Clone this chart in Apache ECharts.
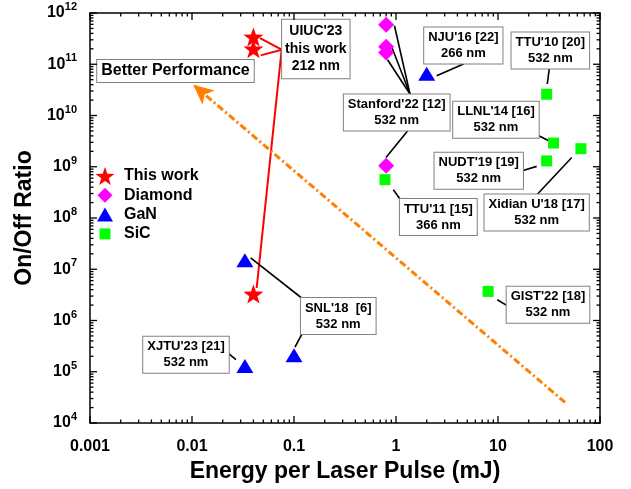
<!DOCTYPE html>
<html>
<head>
<meta charset="utf-8">
<script src="https://cdn.jsdelivr.net/npm/echarts@6/dist/echarts.min.js"></script>
<style>
html, body { margin: 0; padding: 0; background: #fff; }
#chart { width: 631px; height: 489px; }
</style>
</head>
<body>
<div id="chart"></div>
<script>
// [energy per pulse (mJ), on/off ratio]
const thisWork = [[0.04, 3.4e11], [0.04, 2.0e11], [0.04, 3.3e6]];
const diamond = [[0.8, 5.9e11], [0.8, 2.2e11], [0.8, 1.7e11], [0.8, 1.05e9]];
const gan = [[2.0, 6.5e10], [0.033, 1.5e7], [0.1, 2.1e5], [0.033, 1.3e5]];
const sic = [[0.78, 5.6e8], [30, 2.6e10], [35, 2.9e9], [30, 1.3e9], [65, 2.25e9], [8, 3.7e6]];

const xTickLabels = ['0.001', '0.01', '0.1', '1', '10', '100'];
const yTickExps = [4, 5, 6, 7, 8, 9, 10, 11, 12];

// trend arrow, log10 units
const trendFrom = [1.657, 4.402];
const trendTo = [-1.987, 10.601];

// callout boxes: centre and connector lines in log10 units
const notes = [
  { text: "UIUC'23\nthis work\n212 nm", box: [-0.786, 11.30], size: 14, color: '#ff0000',
    links: [[[-1.333, 11.512], [-1.121, 11.284]], [[-1.326, 11.173], [-1.121, 11.284]], [[-1.121, 11.284], [-1.366, 6.634]]] },
  { text: 'Better Performance', box: [-2.162, 10.870], size: 16, links: [] },
  { text: "NJU'16 [22]\n266 nm", box: [0.660, 11.368], links: [[[0.399, 10.777], [0.667, 11.011]]] },
  { text: "TTU'10 [20]\n532 nm", box: [1.513, 11.270], links: [[[1.503, 10.913], [1.483, 10.615]]] },
  { text: "Stanford'22 [12]\n532 nm", box: [0.007, 10.060],
    links: [[[0.137, 10.420], [-0.015, 11.752]], [[0.137, 10.420], [-0.042, 11.337]], [[0.137, 10.420], [-0.083, 11.089]], [[0.115, 9.703], [-0.098, 9.182]]] },
  { text: "LLNL'14 [16]\n532 nm", box: [0.980, 9.918], links: [[[1.399, 9.606], [1.493, 9.514]]] },
  { text: "NUDT'19 [19]\n532 nm", box: [0.811, 8.923], links: [[[1.238, 8.923], [1.379, 9.007]]] },
  { text: "Xidian U'18 [17]\n532 nm", box: [1.379, 8.109], links: [[[1.379, 8.449], [1.723, 9.182]]] },
  { text: "TTU'11 [15]\n366 nm", box: [0.415, 8.020], links: [[[0.039, 8.371], [-0.026, 8.552]]] },
  { text: "XJTU'23 [21]\n532 nm", box: [-2.059, 5.333], links: [[[-1.640, 5.352], [-1.569, 5.235]]] },
  { text: "SNL'18  [6]\n532 nm", box: [-0.566, 6.088], links: [[[-1.425, 7.220], [-0.925, 6.439]], [[-0.925, 5.723], [-0.990, 5.483]]] },
  { text: "GIST'22 [18]\n532 nm", box: [1.490, 6.308], links: [[[1.085, 6.295], [0.993, 6.406]]] }
];

const FONT = '"Liberation Sans", Arial, sans-serif';
const X_MIN = 0.001, X_MAX = 100, Y_MIN = 1e4, Y_MAX = 1e12;
const p10 = e => Math.pow(10, e);

function starPath(cx, cy, R) {
  let d = '';
  for (let i = 0; i < 10; i++) {
    const a = (-90 + i * 36) * Math.PI / 180;
    const r = i % 2 === 0 ? R : R * 0.4;
    d += (i === 0 ? 'M' : 'L') + (cx + r * Math.cos(a)).toFixed(2) + ',' + (cy + r * Math.sin(a)).toFixed(2) + ' ';
  }
  return d + 'Z';
}
const starSymbol = 'path://' + starPath(10, 10, 10);
const legendIcons = {
  'This work': 'path://M0,0 M20,18 ' + starPath(10, 10, 10),
  'Diamond': 'path://M0,0 M20,18 M10,1.5 L17.5,9 L10,16.5 L2.5,9 Z',
  'GaN': 'path://M0,0 M20,18 M10,2 L18,16 L2,16 Z',
  'SiC': 'path://M0,0 M20,18 M4.5,3.5 L15.5,3.5 L15.5,14.5 L4.5,14.5 Z'
};

// tick positions of the log axes: [value, tick length]
function logTicks(lo, hi) {
  const out = [];
  for (let e = lo; e <= hi; e++) {
    out.push([p10(e), 7]);
    if (e < hi) for (let m = 2; m <= 9; m++) out.push([m * p10(e), 3.5]);
  }
  return out;
}
const xTicks = logTicks(-3, 2);
const yTicks = logTicks(4, 12);

const chart = echarts.init(document.getElementById('chart'));

function makeAxis(extra) {
  return Object.assign({
    type: 'log',
    logBase: 10,
    axisLine: { show: true, lineStyle: { color: '#000', width: 1.5 } },
    axisTick: { show: false },
    splitLine: { show: false }
  }, extra);
}

function tickLine(x1, y1, x2, y2) {
  return { type: 'line', shape: { x1: x1, y1: y1, x2: x2, y2: y2 }, style: { stroke: '#000', lineWidth: 1.3 } };
}

chart.setOption({
  backgroundColor: '#fff',
  animation: false,
  grid: { left: 90, right: 31, top: 13, bottom: 66 },
  legend: {
    orient: 'vertical',
    left: 95,
    top: 167,
    padding: 0,
    itemWidth: 20,
    itemHeight: 18,
    itemGap: 1.3,
    textStyle: { fontSize: 16, fontWeight: 'bold', fontFamily: FONT, color: '#000', padding: [0, 0, 0, 4] },
    data: Object.keys(legendIcons).map(n => ({ name: n, icon: legendIcons[n] }))
  },
  xAxis: [
    makeAxis({
      min: X_MIN, max: X_MAX, position: 'bottom',
      name: 'Energy per Laser Pulse (mJ)',
      nameLocation: 'middle',
      nameGap: 34,
      nameTextStyle: { fontSize: 23, fontWeight: 'bold', fontFamily: FONT, color: '#000' },
      axisLabel: {
        margin: 16, fontSize: 16, fontWeight: 'bold', fontFamily: FONT, color: '#000',
        formatter: v => xTickLabels[Math.round(Math.log10(v)) + 3]
      }
    }),
    makeAxis({ min: X_MIN, max: X_MAX, position: 'top', axisLabel: { show: false } })
  ],
  yAxis: [
    makeAxis({
      min: Y_MIN, max: Y_MAX, position: 'left',
      name: 'On/Off Ratio',
      nameLocation: 'middle',
      nameGap: 54,
      nameTextStyle: { fontSize: 23, fontWeight: 'bold', fontFamily: FONT, color: '#000' },
      axisLabel: {
        margin: 13, color: '#000',
        formatter: v => {
          const e = Math.round(Math.log10(v));
          return yTickExps.indexOf(e) >= 0 ? '{b|10}{s|' + e + '}' : '';
        },
        rich: {
          b: { fontSize: 16, fontWeight: 'bold', fontFamily: FONT, color: '#000' },
          s: { fontSize: 11, fontWeight: 'bold', fontFamily: FONT, color: '#000', padding: [0, 0, 12, 0] }
        }
      }
    }),
    makeAxis({ min: Y_MIN, max: Y_MAX, position: 'right', axisLabel: { show: false } })
  ],
  series: [
    {
      // inward major and minor ticks on all four sides of the frame
      name: 'ticks', type: 'custom', silent: true, clip: false, z: 6,
      data: [[1, 1e8]],
      renderItem: (p, api) => {
        const children = [];
        xTicks.forEach(([v, len]) => {
          const b = api.coord([v, Y_MIN]);
          const t = api.coord([v, Y_MAX]);
          children.push(tickLine(b[0], b[1], b[0], b[1] - len));
          children.push(tickLine(t[0], t[1], t[0], t[1] + len));
        });
        yTicks.forEach(([v, len]) => {
          const l = api.coord([X_MIN, v]);
          const r = api.coord([X_MAX, v]);
          children.push(tickLine(l[0], l[1], l[0] + len, l[1]));
          children.push(tickLine(r[0], r[1], r[0] - len, r[1]));
        });
        return { type: 'group', children: children };
      }
    },
    {
      name: 'trend', type: 'line', data: [], silent: true, z: 3,
      markLine: {
        silent: true,
        symbol: ['none', 'arrow'],
        symbolSize: [14, 20],
        label: { show: false },
        emphasis: { disabled: true },
        lineStyle: { color: '#ff8000', width: 3, type: [7, 3, 2, 3] },
        data: [[{ coord: [p10(trendFrom[0]), p10(trendFrom[1])] }, { coord: [p10(trendTo[0]), p10(trendTo[1])] }]]
      }
    },
    {
      name: 'notes', type: 'custom', silent: true, clip: false, z: 4,
      data: notes.map(n => [p10(n.box[0]), p10(n.box[1])]),
      renderItem: (p, api) => {
        const n = notes[p.dataIndex];
        const c = api.coord([api.value(0), api.value(1)]);
        const stroke = n.color || '#000';
        const children = n.links.map(([a, b]) => {
          const pa = api.coord([p10(a[0]), p10(a[1])]);
          const pb = api.coord([p10(b[0]), p10(b[1])]);
          return { type: 'line', shape: { x1: pa[0], y1: pa[1], x2: pb[0], y2: pb[1] },
            style: { stroke: stroke, lineWidth: n.color ? 2 : 1.6 } };
        });
        const size = n.size || 13;
        children.push({
          type: 'text', z2: 10,
          style: {
            text: n.text, x: c[0], y: c[1], align: 'center', verticalAlign: 'middle',
            font: 'bold ' + size + 'px ' + FONT, fill: '#000',
            lineHeight: size === 14 ? 17.5 : (size === 16 ? 18 : 16),
            backgroundColor: '#fff', borderColor: '#808080', borderWidth: 1,
            padding: size === 14 ? [3, 3] : [2, 4]
          }
        });
        return { type: 'group', children: children };
      }
    },
    {
      name: 'This work', type: 'scatter', data: thisWork, z: 6,
      symbol: starSymbol, symbolSize: [20, 19], itemStyle: { color: '#ff0000', opacity: 1 }
    },
    {
      name: 'Diamond', type: 'scatter', data: diamond, z: 5,
      symbol: 'diamond', symbolSize: [16, 16], itemStyle: { color: '#ff00ff', opacity: 1 }
    },
    {
      name: 'GaN', type: 'scatter', data: gan, z: 5,
      symbol: 'triangle', symbolSize: [17, 14], itemStyle: { color: '#0000ff', opacity: 1 }
    },
    {
      name: 'SiC', type: 'scatter', data: sic, z: 5,
      symbol: 'rect', symbolSize: 11, itemStyle: { color: '#00ff00', opacity: 1 }
    }
  ]
});
</script>
</body>
</html>
